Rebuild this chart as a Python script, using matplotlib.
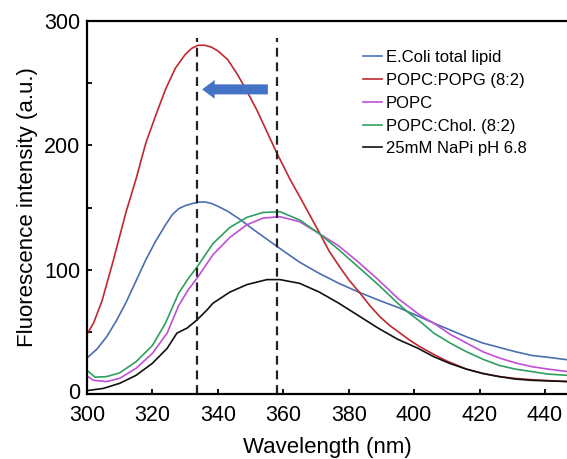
import matplotlib
matplotlib.use('Agg')
import matplotlib.pyplot as plt
import matplotlib.transforms as mtransforms

plt.rcParams['font.family'] = ['Liberation Sans', 'DejaVu Sans']

# E.Coli total lipid
wl_blue = [300, 303, 306, 309, 312, 315, 318, 321, 324, 326, 328, 330, 332, 334, 336, 338, 340,
           343, 347, 351, 355, 359, 365, 371, 377, 383, 389.6, 395.7, 401.8, 406, 411, 416, 421,
           426, 431, 436, 441, 447]
blue = [29, 36, 46, 59, 74, 91, 108, 123, 136, 144, 149, 151.5, 153, 154.3, 154.5, 153.3, 151,
        147, 140, 132, 124.5, 117, 106, 97, 89, 82, 75, 69, 62, 57, 51.5, 46, 41,
        37.5, 34, 31, 29.5, 27.5]

# POPC:POPG (8:2)
wl_red = [300, 302, 304.6, 308, 312, 315, 318, 321, 324, 327, 330, 332, 334, 336, 338, 340, 343,
          346, 349, 352, 355, 358, 362, 365.6, 368.5, 371.2, 374, 377.3, 380, 383.5, 386.5,
          389.6, 392.6, 395.7, 398.8, 401.8, 405.9, 410, 416, 421, 426, 431, 436, 441, 447]
red = [48, 57, 75, 107, 147, 173, 202, 224, 245, 262, 273, 278, 280.5, 280.5, 279, 276, 269,
       257, 243, 228, 211, 194, 173, 156, 142, 129, 115, 102, 92, 81, 71,
       62, 55, 49, 43, 38, 32, 26.5, 20, 16.5, 14, 12.5, 11.5, 10.8, 10]

# POPC
wl_purple = [300, 302, 306, 310, 315, 320, 324.5, 328, 331, 333.6, 338.5, 343.7, 348.8, 353.8,
             359, 365, 371, 377, 383, 389, 395, 402, 406, 411, 416, 421, 426, 431, 436, 441, 447]
purple = [14.5, 11, 10, 12.6, 20.7, 32.7, 49, 71, 84, 93, 112, 126, 136, 141.5,
          142.6, 138.6, 129, 119, 106, 92, 77, 63, 57, 48, 41, 34, 29, 25, 22, 20, 18]

# POPC:Chol. (8:2)
wl_green = [300, 302.5, 306, 310, 315, 320, 324, 328, 331, 333.6, 338.5, 343.7, 348.8, 353.8,
            359, 365, 371, 377, 383, 389, 395, 398, 402, 406, 411, 416, 421, 426, 431, 436, 441, 447]
green = [19, 13.5, 14, 17, 26, 39, 57, 81, 93, 102, 121, 134, 142, 146,
         146.6, 140, 129, 116, 102, 88, 73, 66, 58, 49, 41, 34, 28, 23, 20, 18, 16, 15]

# 25mM NaPi pH 6.8
wl_black = [300, 305, 310, 315, 320, 324.5, 327.5, 330.6, 333.6, 336.7, 338.5, 343.7, 348.9,
            355, 359, 365, 371, 377, 383, 389, 395, 401, 406, 411, 416, 421, 426, 431, 436, 441, 447]
black = [2.7, 4.5, 8.6, 15, 24.7, 36.7, 49, 53, 59.5, 67.6, 73, 82, 88,
         92, 92, 89, 82, 73, 63, 53, 44, 37, 30, 24.5, 20, 16.5, 14, 12, 11, 10.5, 10]

labels = ['E.Coli total lipid', 'POPC:POPG (8:2)', 'POPC', 'POPC:Chol. (8:2)', '25mM NaPi pH 6.8']
colors = ['#4a6fb0', '#c0282d', '#bf4fd8', '#2f9f5f', '#111111']

peaks = [333.6, 358]
shift_from = 355.3
shift_to = 335.2
shift_y = 245

fig = plt.figure(figsize=(5.67, 4.59), dpi=100)
ax = fig.add_axes([87/567, 1-394/459, 480/567, 373/459])

series = [(wl_blue, blue), (wl_red, red), (wl_purple, purple), (wl_green, green), (wl_black, black)]
for (x, y), lab, c in zip(series, labels, colors):
    ax.plot(x, y, color=c, lw=1.2, label=lab)

for p in peaks:
    ax.plot([p, p], [0, 286], color='#222222', lw=1.6, ls=(0, (4, 2.6)))

ax.annotate('', xy=(shift_to, shift_y), xytext=(shift_from, shift_y),
            arrowprops=dict(arrowstyle='simple,head_length=0.9,head_width=1.35,tail_width=0.72',
                            mutation_scale=10, fc='#4472c4', ec='none', shrinkA=0, shrinkB=0))

ax.set_xlim(300, 300 + 480/3.271)
ax.set_ylim(0, 300)
ax.set_xticks(range(300, 441, 20))
ax.set_yticks(range(0, 301, 50))
ax.set_yticklabels(['0', '', '100', '', '200', '', '300'])
ax.tick_params(direction='in', length=3.5, width=1.3, labelsize=15.5)
ax.tick_params(axis='x', pad=8)
ax.tick_params(axis='y', pad=5)

# nudge the "0" up a little so it clears the "300" below it
zero = ax.get_yticklabels()[0]
zero.set_transform(zero.get_transform() + mtransforms.ScaledTranslation(0, 3/100, fig.dpi_scale_trans))

for s in ['left', 'bottom', 'top']:
    ax.spines[s].set_linewidth(1.6)
ax.spines['right'].set_visible(False)

ax.set_xlabel('Wavelength (nm)', fontsize=16, labelpad=8)
ax.set_ylabel('Fluorescence intensity (a.u.)', fontsize=16, labelpad=4)

ax.legend(loc='upper left', bbox_to_anchor=(363/567, 1-50/459), bbox_transform=fig.transFigure,
          frameon=False, fontsize=12, handlelength=1.15, handletextpad=0.2,
          labelspacing=0.47, borderpad=0, borderaxespad=0)

fig.savefig('out.png', dpi=100)
